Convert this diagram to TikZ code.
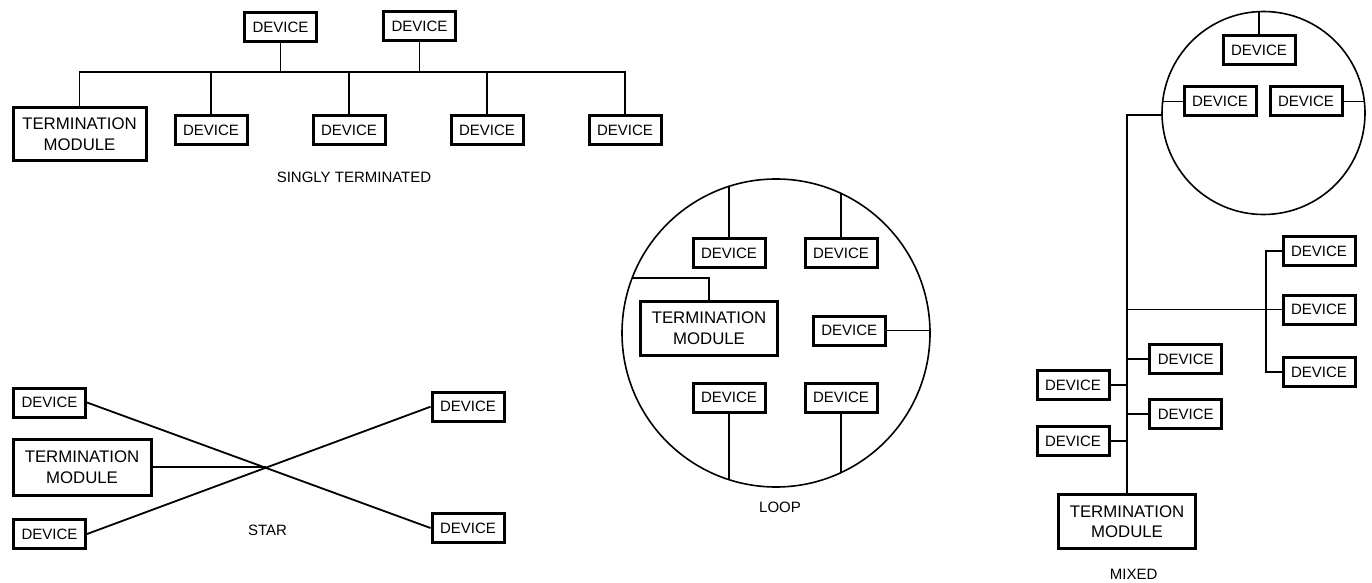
\documentclass[tikz,border=0pt]{standalone}
\usepackage{fontspec}
\setmainfont{Liberation Sans}
\begin{document}
\begin{tikzpicture}[x=1pt,y=-1pt,
  dev/.style={draw, line width=3pt, minimum width=72pt, minimum height=29pt, inner sep=0pt, font=\fontsize{15}{18}\selectfont},
  tm/.style={draw, line width=3pt, minimum width=137pt, minimum height=54pt, inner sep=0pt, align=center, font=\fontsize{16.8}{20.7}\selectfont},
  wire/.style={line width=1.8pt},
  ring/.style={circle, draw, line width=1.6pt, inner sep=0pt},
  lbl/.style={font=\fontsize{15}{18}\selectfont, inner sep=0pt}]
\useasboundingbox (0,0) rectangle (1372,583);

% ---------------- SINGLY TERMINATED ----------------
\node[dev] (t1) at (280.5,27) {DEVICE};
\node[dev] (t2) at (419.5,26) {DEVICE};
\node[tm, minimum width=133pt, minimum height=53pt] (tm1) at (79.5,134) {TERMINATION\\MODULE};
\node[dev] (b1) at (211,130) {DEVICE};
\node[dev] (b2) at (349,130) {DEVICE};
\node[dev] (b3) at (487,130) {DEVICE};
\node[dev] (b4) at (625,130) {DEVICE};
\coordinate (bus) at (400,72);
\draw[wire] (tm1.north) |- (bus) -| (b4.north);
\draw[wire] (b1.north) -- (b1.north |- bus);
\draw[wire] (b2.north) -- (b2.north |- bus);
\draw[wire] (b3.north) -- (b3.north |- bus);
\draw[wire] (t1.south) -- (t1.south |- bus);
\draw[wire] (t2.south) -- (t2.south |- bus);
\node[lbl] (lst) at (354,177) {SINGLY TERMINATED};

% ---------------- STAR ----------------
\node[dev] (s1) at (49.5,402.5) {DEVICE};
\node[dev] (s3) at (49.5,534) {DEVICE};
\node[tm, minimum width=138pt, minimum height=56pt] (tm2) at (82,467.3) {TERMINATION\\MODULE};
\node[dev] (s2) at (468,406.7) {DEVICE};
\node[dev] (s4) at (468,528) {DEVICE};
\draw[wire] (s1.east) -- (s4.west);
\draw[wire] (s3.east) -- (s2.west);
\coordinate (sx) at (intersection of s1.east--s4.west and s3.east--s2.west);
\draw[wire] (tm2.east) -- (tm2.east -| sx);
\node[lbl] (lstar) at (267.5,530) {STAR};

% ---------------- LOOP ----------------
\node[ring, minimum size=308pt] (loop) at (776,333) {};
\node[dev] (l1) at (729,253) {DEVICE};
\node[dev] (l2) at (841,253) {DEVICE};
\node[dev] (l3) at (849.3,330.5) {DEVICE};
\node[dev] (l4) at (729,397.5) {DEVICE};
\node[dev] (l5) at (841,397.5) {DEVICE};
\node[tm] (tm3) at (709,328) {TERMINATION\\MODULE};
\coordinate (c1) at (729,{333-154*sqrt(1-(47/154)^2)});
\coordinate (c2) at (841,{333-154*sqrt(1-(65/154)^2)});
\coordinate (c4) at (729,{333+154*sqrt(1-(47/154)^2)});
\coordinate (c5) at (841,{333+154*sqrt(1-(65/154)^2)});
\coordinate (c3) at ({776+154*sqrt(1-(2.5/154)^2)},330.5);
\coordinate (ct) at ({776-154*sqrt(1-(54.7/154)^2)},278.3);
\draw[wire] (l1.north) -- (c1);
\draw[wire] (l2.north) -- (c2);
\draw[wire] (l4.south) -- (c4);
\draw[wire] (l5.south) -- (c5);
\draw[wire] (l3.east) -- (c3);
\draw[wire] (tm3.north) |- (ct);
\node[lbl] (lloop) at (780,507) {LOOP};

% ---------------- MIXED ----------------
\node[ring, minimum size=203pt] (mix) at (1263.5,113) {};
\node[dev] (m1) at (1259,50) {DEVICE};
\node[dev] (m2) at (1220,101.5) {DEVICE};
\node[dev] (m3) at (1306,101.5) {DEVICE};
\coordinate (e1) at (1259,{113-101.5*sqrt(1-(4.5/101.5)^2)});
\coordinate (e2) at ({1263.5-101.5*sqrt(1-(11.5/101.5)^2)},101.5);
\coordinate (e3) at ({1263.5+101.5*sqrt(1-(11.5/101.5)^2)},101.5);
\coordinate (et) at ({1263.5-101.5*sqrt(1-(2/101.5)^2)},115);
\draw[wire] (m1.north) -- (e1);
\draw[wire] (e2) -- (m2.west);
\draw[wire] (m3.east) -- (e3);
\node[tm] (tm4) at (1127,521.8) {TERMINATION\\MODULE};
\draw[wire] (et) -| (tm4.north);
\node[dev] (r1) at (1319,251) {DEVICE};
\node[dev] (r2) at (1319,309.5) {DEVICE};
\node[dev] (r3) at (1319,372) {DEVICE};
\coordinate (rb) at (1266,0);
\draw[wire] (tm4.north |- r2.west) -- (r2.west);
\draw[wire] (r1.west) -- (r1.west -| rb) -- (r3.west -| rb) -- (r3.west);
\node[dev] (mr1) at (1185.8,359) {DEVICE};
\node[dev] (mr2) at (1185.8,414) {DEVICE};
\node[dev] (ml1) at (1073,385) {DEVICE};
\node[dev] (ml2) at (1073,441) {DEVICE};
\draw[wire] (mr1.west) -- (mr1.west -| tm4.north);
\draw[wire] (mr2.west) -- (mr2.west -| tm4.north);
\draw[wire] (ml1.east) -- (ml1.east -| tm4.north);
\draw[wire] (ml2.east) -- (ml2.east -| tm4.north);
\node[lbl] (lmix) at (1133.7,574.5) {MIXED};
\end{tikzpicture}
\end{document}
